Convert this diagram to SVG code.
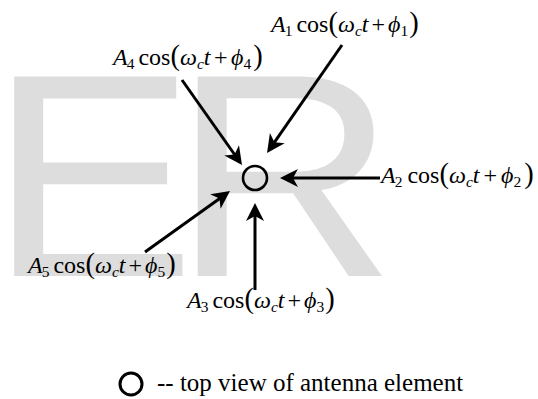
<svg xmlns="http://www.w3.org/2000/svg" width="538" height="399" viewBox="0 0 538 399">
<style>
.wm{font-family:'Liberation Sans',Arial,sans-serif;font-size:290px;fill:#dddddd}
.m{font-family:'Liberation Serif','Times New Roman','DejaVu Serif',serif;font-size:24px;fill:#000}
.i{font-style:italic}
.s{font-size:15.5px}
.p{font-size:28.5px}
.lg{font-size:25px}
.ln{fill:none;stroke:#000;stroke-width:3;marker-end:url(#ah)}
.ant{fill:none;stroke:#000;stroke-width:2.6}
</style>
<defs>
<marker id="ah" viewBox="-12 -10 22 20" markerWidth="22" markerHeight="20" refX="0" refY="0" orient="auto" markerUnits="userSpaceOnUse" overflow="visible">
<path d="M8,0 L-10,-9 L-5,0 L-10,9 Z" fill="#000"/>
</marker>
</defs>
<rect width="538" height="399" fill="#fff"/>
<g id="watermark" transform="scale(1.07,1)">
<text class="wm" x="-10.5" y="276">E</text>
<text class="wm" x="161" y="276">R</text>
</g>
<g id="connectors">
<path class="ln" d="M342,45 L271.6,146.4"/>
<path class="ln" d="M182,80 L237.4,158.5"/>
<path class="ln" d="M380,178 L288,178"/>
<path class="ln" d="M255,290 L255,211"/>
<path class="ln" d="M145,252 L223.5,195.7"/>
</g>
<g id="antenna"><circle class="ant" cx="255" cy="178" r="12"/></g>
<g id="label1"><text class="m" x="271" y="32"><tspan class="i">A</tspan><tspan class="s" dx="-1" dy="4">1</tspan><tspan dx="4" dy="-4">cos</tspan><tspan class="p">(</tspan><tspan class="i">ω</tspan><tspan class="s i" dy="4">c</tspan><tspan class="i" dy="-4">t</tspan><tspan dx="3">+</tspan><tspan class="i" dx="3">ϕ</tspan><tspan class="s" dy="4">1</tspan><tspan class="p" dx="1" dy="-4">)</tspan></text></g>
<g id="label4"><text class="m" x="113" y="65"><tspan class="i">A</tspan><tspan class="s" dx="-1" dy="4">4</tspan><tspan dx="4" dy="-4">cos</tspan><tspan class="p">(</tspan><tspan class="i">ω</tspan><tspan class="s i" dy="4">c</tspan><tspan class="i" dy="-4">t</tspan><tspan dx="3.5">+</tspan><tspan class="i" dx="3.5">ϕ</tspan><tspan class="s" dy="4">4</tspan><tspan class="p" dx="2" dy="-4">)</tspan></text></g>
<g id="label2"><text class="m" x="381" y="183"><tspan class="i">A</tspan><tspan class="s" dx="-1" dy="4">2</tspan><tspan dx="5" dy="-4">cos</tspan><tspan class="p">(</tspan><tspan class="i">ω</tspan><tspan class="s i" dy="4">c</tspan><tspan class="i" dy="-4">t</tspan><tspan dx="4">+</tspan><tspan class="i" dx="4">ϕ</tspan><tspan class="s" dy="4">2</tspan><tspan class="p" dx="3" dy="-4">)</tspan></text></g>
<g id="label5"><text class="m" x="28" y="273"><tspan class="i">A</tspan><tspan class="s" dx="-1" dy="4">5</tspan><tspan dx="4" dy="-4">cos</tspan><tspan class="p">(</tspan><tspan class="i">ω</tspan><tspan class="s i" dy="4">c</tspan><tspan class="i" dy="-4">t</tspan><tspan dx="3">+</tspan><tspan class="i" dx="3">ϕ</tspan><tspan class="s" dy="4">5</tspan><tspan class="p" dx="1" dy="-4">)</tspan></text></g>
<g id="label3"><text class="m" x="187" y="308"><tspan class="i">A</tspan><tspan class="s" dx="-1" dy="4">3</tspan><tspan dx="4" dy="-4">cos</tspan><tspan class="p">(</tspan><tspan class="i">ω</tspan><tspan class="s i" dy="4">c</tspan><tspan class="i" dy="-4">t</tspan><tspan dx="3">+</tspan><tspan class="i" dx="3">ϕ</tspan><tspan class="s" dy="4">3</tspan><tspan class="p" dx="1" dy="-4">)</tspan></text></g>
<g id="legend">
<circle cx="131" cy="384" r="11" fill="none" stroke="#000" stroke-width="3"/>
<text class="m lg" x="157" y="391">-- top view of antenna element</text>
</g>
</svg>
